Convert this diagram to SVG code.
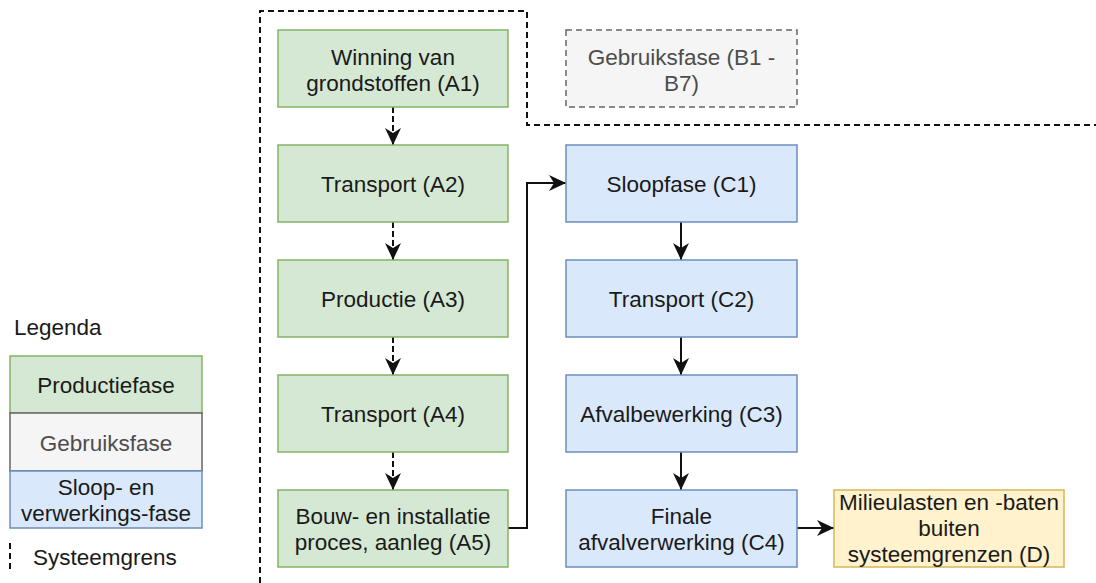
<svg xmlns="http://www.w3.org/2000/svg" width="1096" height="583" viewBox="0 0 1096 583">
<style>
text{font-family:"Liberation Sans",Arial,sans-serif;font-size:22.5px;fill:#1a1a1a;text-anchor:middle}
.g{fill:#d5e8d4;stroke:#82b366;stroke-width:1.5}
.b{fill:#dae8fc;stroke:#6c8ebf;stroke-width:1.5}
.y{fill:#fff2cc;stroke:#d6b656;stroke-width:1.5}
.gr{fill:#f5f5f5;stroke:#666;stroke-width:1.5}
.grd{fill:#f5f5f5;stroke:#666;stroke-width:1.5;stroke-dasharray:6 4}
.gt{fill:#4d4d4d}
.bound{fill:none;stroke:#111;stroke-width:2;stroke-dasharray:6 4}
.c{fill:none;stroke:#111;stroke-width:2}
.cd{fill:none;stroke:#111;stroke-width:2;stroke-dasharray:6 3}
</style>
<defs>
<marker id="arr" markerUnits="userSpaceOnUse" viewBox="0 0 17 16" refX="17" refY="8" markerWidth="17" markerHeight="16" orient="auto">
<path d="M0,0 L17,8 L0,16 L5,8 z" fill="#111"/>
</marker>
</defs>
<rect width="1096" height="583" fill="#fff"/>
<g id="boundary">
<path class="bound" d="M260,583 V11 H527 V125 H1096"/>
</g>
<g id="legend">
<text x="14" y="335" style="text-anchor:start">Legenda</text>
<rect class="g" x="10" y="356" width="192" height="57"/>
<text x="106" y="393">Productiefase</text>
<rect class="gr" x="10" y="413" width="192" height="58"/>
<text class="gt" x="106" y="450.5">Gebruiksfase</text>
<rect class="b" x="10" y="471" width="192" height="57"/>
<text x="106" y="495">Sloop- en</text>
<text x="106" y="521">verwerkings-fase</text>
<path class="bound" d="M10,543 V572"/>
<text x="33" y="565" style="text-anchor:start">Systeemgrens</text>
</g>
<g id="connectors">
<path class="cd" d="M393,107 V145" marker-end="url(#arr)"/>
<path class="cd" d="M393,222 V260" marker-end="url(#arr)"/>
<path class="cd" d="M393,337 V375" marker-end="url(#arr)"/>
<path class="cd" d="M393,452 V490" marker-end="url(#arr)"/>
<path class="c" d="M508,528 H527 V183 H566" marker-end="url(#arr)"/>
<path class="c" d="M681,222 V260" marker-end="url(#arr)"/>
<path class="c" d="M681,337 V375" marker-end="url(#arr)"/>
<path class="c" d="M681,452 V490" marker-end="url(#arr)"/>
<path class="c" d="M797,528 H834" marker-end="url(#arr)"/>
</g>
<g id="A1"><rect class="g" x="278" y="30" width="230" height="77"/><text x="393" y="65">Winning van</text><text x="393" y="91">grondstoffen (A1)</text></g>
<g id="A2"><rect class="g" x="278" y="145" width="230" height="77"/><text x="393" y="192">Transport (A2)</text></g>
<g id="A3"><rect class="g" x="278" y="260" width="230" height="77"/><text x="393" y="307">Productie (A3)</text></g>
<g id="A4"><rect class="g" x="278" y="375" width="230" height="77"/><text x="393" y="422">Transport (A4)</text></g>
<g id="A5"><rect class="g" x="278" y="490" width="230" height="77"/><text x="393" y="524">Bouw- en installatie</text><text x="393" y="550">proces, aanleg (A5)</text></g>
<g id="B"><rect class="grd" x="566" y="30" width="231" height="77"/><text class="gt" x="681.5" y="65">Gebruiksfase (B1 -</text><text class="gt" x="681.5" y="91">B7)</text></g>
<g id="C1"><rect class="b" x="566" y="145" width="231" height="77"/><text x="681.5" y="192">Sloopfase (C1)</text></g>
<g id="C2"><rect class="b" x="566" y="260" width="231" height="77"/><text x="681.5" y="307">Transport (C2)</text></g>
<g id="C3"><rect class="b" x="566" y="375" width="231" height="77"/><text x="681.5" y="422">Afvalbewerking (C3)</text></g>
<g id="C4"><rect class="b" x="566" y="490" width="231" height="77"/><text x="681.5" y="524">Finale</text><text x="681.5" y="550">afvalverwerking (C4)</text></g>
<g id="D"><rect class="y" x="834" y="490" width="230" height="77"/><text x="949" y="510">Milieulasten en -baten</text><text x="949" y="536">buiten</text><text x="949" y="562">systeemgrenzen (D)</text></g>
</svg>
